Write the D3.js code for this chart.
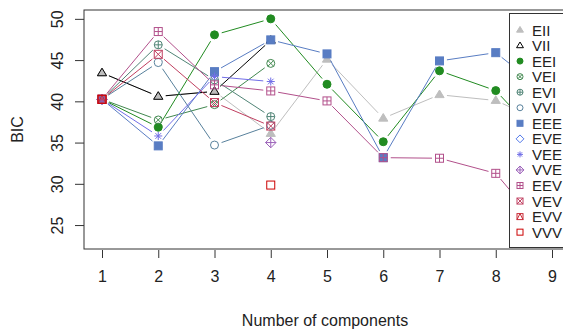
<!DOCTYPE html>
<html>
<head>
<meta charset="utf-8">
<script src="https://cdn.jsdelivr.net/npm/d3@7"></script>
<style>
  html, body { margin: 0; padding: 0; background: #fff; }
  svg { display: block; font-family: "Liberation Sans", Arial, Helvetica, sans-serif; }
</style>
</head>
<body>
<svg id="chart" width="563" height="333"></svg>
<script>
// Number of mixture components
const components = [1, 2, 3, 4, 5, 6, 7, 8, 9];

// Model names, in legend order
const models = ["EII", "VII", "EEI", "VEI", "EVI", "VVI", "EEE", "EVE", "VEE", "VVE", "EEV", "VEV", "EVV", "VVV"];

// BIC per model and number of components (null = not estimated)
const bicEII = [43.45, 40.6, 41.2, 36.1, 45.1, 37.95, 40.8, 40.1, 37.0];
const bicVII = [43.45, 40.6, 41.2, 47.4, null, null, null, null, null];
const bicEEI = [40.25, 36.86, 48.06, 50.0, 42.07, 35.1, 43.7, 41.3, 34.0];
const bicVEI = [40.25, 37.74, 39.6, 44.6, null, null, null, null, null];
const bicEVI = [40.25, 46.85, 42.6, 38.15, null, null, null, null, null];
const bicVVI = [40.25, 44.7, 34.7, 37.1, null, null, null, null, null];
const bicEEE = [40.25, 34.6, 43.6, 47.45, 45.75, 33.17, 44.9, 45.9, 40.5];
const bicEVE = [40.25, null, null, null, null, null, null, null, null];
const bicVEE = [40.25, 35.8, 43.0, 42.4, null, null, null, null, null];
const bicVVE = [40.25, null, null, 35.0, null, null, null, null, null];
const bicEEV = [40.25, 48.46, 42.0, 41.26, 40.05, 33.17, 33.1, 31.27, 23.17];
const bicVEV = [40.25, 45.7, 39.85, 37.0, null, null, null, null, null];
const bicEVV = [40.25, null, null, null, null, null, null, null, null];
const bicVVV = [40.25, null, null, 29.85, null, null, null, null, null];

// y-axis tick labels
const yTicks = [25, 30, 35, 40, 45, 50];

const bicValues = [bicEII, bicVII, bicEEI, bicVEI, bicEVI, bicVVI, bicEEE, bicEVE,
                   bicVEE, bicVVE, bicEEV, bicVEV, bicEVV, bicVVV];

const colors = ["#BEBEBE", "#000000", "#218B21", "#41884F", "#508476", "#58819C", "#597DC3",
                "#5178EA", "#716EE7", "#9B60B8", "#B2508B", "#C03F60", "#C82A36", "#CC0000"];
const symbols = ["triFilled", "triOpen", "circleFilled", "circleX", "circlePlus", "circleOpen",
                 "squareFilled", "diamondOpen", "asterisk", "diamondPlus", "squarePlus",
                 "squareX", "squareTri", "squareOpen"];

const series = models.map((name, i) => ({
  name, color: colors[i], symbol: symbols[i],
  values: components.map((g, j) => ({ g, bic: bicValues[i][j] }))
}));

// plot region (box)
const box = { left: 84, top: 10, right: 570, bottom: 249 };

// axis ranges padded 4% like base graphics
const allBic = bicValues.flat().filter(v => v != null);
const yMin = d3.min(allBic), yMax = d3.max(allBic);
const yPad = (yMax - yMin) * 0.04;
const xPad = (d3.max(components) - d3.min(components)) * 0.04;

const x = d3.scaleLinear()
  .domain([d3.min(components) - xPad, d3.max(components) + xPad])
  .range([box.left, box.right]);
const y = d3.scaleLinear()
  .domain([yMin - yPad, yMax + yPad])
  .range([box.bottom, box.top]);

const svg = d3.select("#chart");

// draw one plotting symbol
function drawSymbol(g, type, cx, cy, r, color) {
  const sw = 1;
  const path = d3.path();
  switch (type) {
    case "triFilled":
    case "triOpen": {
      const h = r * 1.9;
      const p = d3.path();
      p.moveTo(cx, cy - h * 0.62);
      p.lineTo(cx + r * 1.15, cy + h * 0.38);
      p.lineTo(cx - r * 1.15, cy + h * 0.38);
      p.closePath();
      g.append("path").attr("d", p.toString())
        .attr("fill", type === "triFilled" ? color : "none")
        .attr("stroke", color).attr("stroke-width", sw);
      return;
    }
    case "circleFilled":
      g.append("circle").attr("cx", cx).attr("cy", cy).attr("r", r)
        .attr("fill", color).attr("stroke", color).attr("stroke-width", sw);
      return;
    case "circleOpen":
    case "circleX":
    case "circlePlus":
      g.append("circle").attr("cx", cx).attr("cy", cy).attr("r", r)
        .attr("fill", "none").attr("stroke", color).attr("stroke-width", sw);
      if (type === "circleX") {
        const d = r * 0.707;
        path.moveTo(cx - d, cy - d); path.lineTo(cx + d, cy + d);
        path.moveTo(cx - d, cy + d); path.lineTo(cx + d, cy - d);
      } else if (type === "circlePlus") {
        path.moveTo(cx - r, cy); path.lineTo(cx + r, cy);
        path.moveTo(cx, cy - r); path.lineTo(cx, cy + r);
      }
      break;
    case "squareFilled":
    case "squareOpen":
    case "squarePlus":
    case "squareX":
    case "squareTri":
      g.append("rect").attr("x", cx - r).attr("y", cy - r)
        .attr("width", 2 * r).attr("height", 2 * r)
        .attr("fill", type === "squareFilled" ? color : "none")
        .attr("stroke", color).attr("stroke-width", sw);
      if (type === "squarePlus") {
        path.moveTo(cx - r, cy); path.lineTo(cx + r, cy);
        path.moveTo(cx, cy - r); path.lineTo(cx, cy + r);
      } else if (type === "squareX") {
        path.moveTo(cx - r, cy - r); path.lineTo(cx + r, cy + r);
        path.moveTo(cx - r, cy + r); path.lineTo(cx + r, cy - r);
      } else if (type === "squareTri") {
        path.moveTo(cx - r, cy + r); path.lineTo(cx, cy - r); path.lineTo(cx + r, cy + r);
      }
      break;
    case "diamondOpen":
    case "diamondPlus": {
      const d = r * 1.3;
      const p = d3.path();
      p.moveTo(cx, cy - d); p.lineTo(cx + d, cy); p.lineTo(cx, cy + d); p.lineTo(cx - d, cy);
      p.closePath();
      g.append("path").attr("d", p.toString()).attr("fill", "none")
        .attr("stroke", color).attr("stroke-width", sw);
      if (type === "diamondPlus") {
        path.moveTo(cx - d, cy); path.lineTo(cx + d, cy);
        path.moveTo(cx, cy - d); path.lineTo(cx, cy + d);
      }
      break;
    }
    case "asterisk": {
      const d = r * 0.707;
      path.moveTo(cx - r, cy); path.lineTo(cx + r, cy);
      path.moveTo(cx, cy - r); path.lineTo(cx, cy + r);
      path.moveTo(cx - d, cy - d); path.lineTo(cx + d, cy + d);
      path.moveTo(cx - d, cy + d); path.lineTo(cx + d, cy - d);
      break;
    }
  }
  const s = path.toString();
  if (s) g.append("path").attr("d", s).attr("fill", "none")
    .attr("stroke", color).attr("stroke-width", sw);
}

// clip marks to the plot box
svg.append("clipPath").attr("id", "plotClip").append("rect")
  .attr("x", box.left).attr("y", box.top)
  .attr("width", box.right - box.left).attr("height", box.bottom - box.top);

const plot = svg.append("g").attr("clip-path", "url(#plotClip)");

// lines with gaps around points (type = "b"), then points, series by series
const gap = 7.5;
series.forEach(s => {
  const g = plot.append("g");
  const pts = s.values.filter(d => d.bic != null).map(d => ({ ...d, px: x(d.g), py: y(d.bic) }));
  for (let i = 0; i < s.values.length - 1; i++) {
    const a = s.values[i], b = s.values[i + 1];
    if (a.bic == null || b.bic == null) continue;
    const x1 = x(a.g), y1 = y(a.bic), x2 = x(b.g), y2 = y(b.bic);
    const len = Math.hypot(x2 - x1, y2 - y1);
    if (len <= 2 * gap) continue;
    const ux = (x2 - x1) / len, uy = (y2 - y1) / len;
    g.append("line")
      .attr("x1", x1 + ux * gap).attr("y1", y1 + uy * gap)
      .attr("x2", x2 - ux * gap).attr("y2", y2 - uy * gap)
      .attr("stroke", s.color).attr("stroke-width", 1);
  }
  pts.forEach(p => drawSymbol(g, s.symbol, p.px, p.py, 4, s.color));
});

// box
svg.append("rect")
  .attr("x", box.left).attr("y", box.top)
  .attr("width", box.right - box.left).attr("height", box.bottom - box.top)
  .attr("fill", "none").attr("stroke", "#333").attr("stroke-width", 1);

// axes
const xAxis = d3.axisBottom(x).tickValues(components).tickSize(8).tickPadding(13)
  .tickFormat(d3.format("d"));
const gx = svg.append("g").attr("transform", `translate(0,${box.bottom + 1})`).call(xAxis);
gx.select(".domain").remove();
gx.selectAll("line").attr("stroke", "#333");
gx.selectAll("text").attr("font-size", 16).attr("fill", "#222")
  .attr("font-family", "Liberation Sans, Arial, sans-serif");

const yAxis = d3.axisLeft(y).tickValues(yTicks).tickSize(9).tickPadding(5);
const gy = svg.append("g").attr("transform", `translate(${box.left},0)`).call(yAxis);
gy.select(".domain").remove();
gy.selectAll("line").attr("stroke", "#333");
gy.selectAll("text").attr("font-size", 16).attr("fill", "#222")
  .attr("font-family", "Liberation Sans, Arial, sans-serif")
  .attr("text-anchor", "middle").attr("dy", 0)
  .attr("x", 0).attr("y", 0)
  .attr("transform", "translate(-21,0) rotate(-90)");

// axis titles
svg.append("text").attr("x", (box.left + 570) / 2 - 2).attr("y", 326)
  .attr("text-anchor", "middle").attr("font-size", 16).attr("fill", "#222")
  .text("Number of components");
svg.append("text").attr("transform", `translate(23,${(box.top + box.bottom) / 2}) rotate(-90)`)
  .attr("text-anchor", "middle").attr("font-size", 16).attr("fill", "#222")
  .text("BIC");

// legend
const legend = svg.append("g");
legend.append("rect").attr("x", 509.5).attr("y", 13.5).attr("width", 60).attr("height", 234)
  .attr("fill", "#fff").attr("stroke", "#333").attr("stroke-width", 1);
series.forEach((s, i) => {
  const ly = 30 + i * 15.55;
  drawSymbol(legend, s.symbol, 520, ly, 3, s.color);
  legend.append("text").attr("x", 532).attr("y", ly + 5.5)
    .attr("font-size", 15).attr("fill", "#222").text(s.name);
});
</script>
</body>
</html>
